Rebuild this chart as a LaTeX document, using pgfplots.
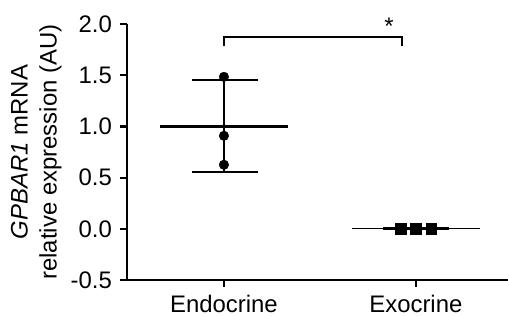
\documentclass[border=0pt]{standalone}
\usepackage{pgfplots}
\pgfplotsset{compat=1.18}
\usepackage{fontspec}
\setmainfont{Liberation Sans}
\begin{document}
\fontsize{24}{28}\selectfont
\begin{tikzpicture}[x=1bp,y=1bp]
\useasboundingbox (-127bp,-36bp) rectangle (381bp,280bp);
\begin{axis}[
  at={(0,0)}, anchor=south west,
  scale only axis, width=381bp, height=256bp,
  xmin=-0.505, xmax=1.48, ymin=-0.5, ymax=2.0,
  axis x line=bottom, axis y line=left,
  axis line style={-, line width=2.4bp},
  every tick/.style={black, line width=2.2bp},
  tick align=outside, major tick length=7bp,
  xtick={0,1}, xticklabels={Endocrine,Exocrine},
  ytick={-0.5,0,0.5,1,1.5,2}, yticklabels={-0.5,0.0,0.5,1.0,1.5,2.0},
  tick label style={font=\fontsize{24}{28}\selectfont},
  y tick label style={xshift=0bp},
  every axis y label/.style={at={(axis description cs:-0.238,0.5)}, rotate=90, anchor=center, align=center, font=\fontsize{24}{29}\selectfont},
  ylabel={\textit{GPBAR1} mRNA\\relative expression (AU)},
  clip=false,
]
% Endocrine
\addplot[black, line width=2.5bp] coordinates {(-0.333,1.0) (0.333,1.0)};
\addplot[black, line width=2.5bp] coordinates {(0,0.557) (0,1.455)};
\addplot[black, line width=2.5bp] coordinates {(-0.167,1.455) (0.177,1.455)};
\addplot[black, line width=2.5bp] coordinates {(-0.167,0.557) (0.177,0.557)};
\addplot[only marks, mark=*, mark size=4.8bp, black] coordinates {(0,1.484) (0,0.908) (0,0.625)};
% Exocrine
\addplot[black, line width=1.6bp] coordinates {(0.667,0.003) (1.333,0.003)};
\addplot[black, line width=3bp] coordinates {(0.83,0.003) (1.17,0.003)};
\addplot[only marks, mark=square*, mark size=5.3bp, black] coordinates {(0.92,0.003) (1.0,0.0) (1.08,0.0)};
% significance bracket
\addplot[black, line width=2.3bp] coordinates {(0,1.79) (0,1.875) (0.927,1.875) (0.927,1.79)};
\node[anchor=base, inner sep=0pt, font=\fontsize{24}{28}\selectfont] at (axis cs:0.86,1.90) {*};
\end{axis}
\end{tikzpicture}
\end{document}
